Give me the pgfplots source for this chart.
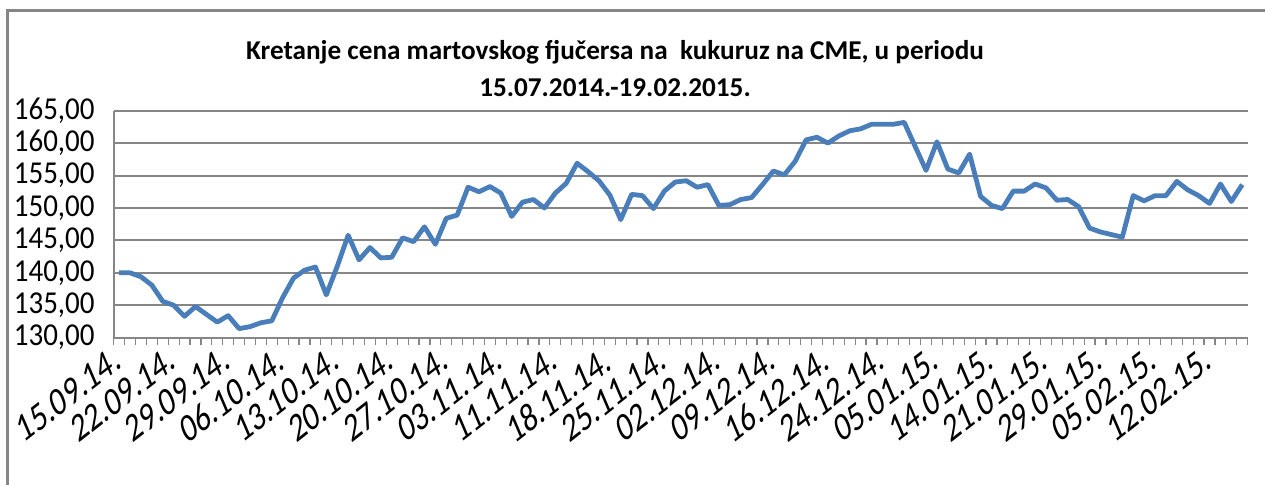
\documentclass[border=0pt]{standalone}
\usepackage{pgfplots}
\pgfplotsset{compat=1.18}
\usepackage{fontspec}
\setmainfont{Carlito}
\definecolor{gridgray}{HTML}{868686}
\definecolor{lineblue}{HTML}{4A7EBB}
\newcommand{\XL}[1]{\scalebox{1}[1.35]{\rotatebox{30}{#1}}}
\begin{document}
\begin{tikzpicture}[x=0.5pt,y=0.5pt]
\useasboundingbox (-113.7,-147.3) rectangle (1151.3,337.7);
\draw[gridgray, line width=1.5pt] (-105.7,-150) -- (-105.7,326.7) -- (1160,326.7);
\node[font=\bfseries\fontsize{13.6}{16}\selectfont] at (501.3,285.7) {Kretanje cena martovskog fjučersa na\ \ kukuruz na CME, u periodu};
\node[font=\bfseries\fontsize{13.6}{16}\selectfont] at (501.3,249.7) {15.07.2014.-19.02.2015.};
\begin{axis}[
  at={(0,0)}, anchor=south west,
  scale only axis, width=567pt, height=113.5pt,
  xmin=-0.5, xmax=103.5, ymin=130, ymax=165,
  ytick={130,135,...,165},
  ymajorgrids,
  grid style={line width=1pt, gridgray},
  axis x line*=bottom, axis y line*=left,
  axis line style={line width=1pt, gridgray},
  /pgf/number format/assume math mode=true,
  yticklabel={\scalebox{1}[1.1]{\pgfmathprintnumber[fixed,fixed zerofill,precision=2,use comma]{\tick}}},
  yticklabel style={font=\fontsize{14.5}{16}\selectfont, anchor=east, inner sep=0pt, xshift=-9.35pt},
  ytick style={draw=none},
  xtick={0,5,...,100},
  xticklabels={\XL{15.09.14.},\XL{22.09.14.},\XL{29.09.14.},\XL{06.10.14.},\XL{13.10.14.},\XL{20.10.14.},\XL{27.10.14.},\XL{03.11.14.},\XL{11.11.14.},\XL{18.11.14.},\XL{25.11.14.},\XL{02.12.14.},\XL{09.12.14.},\XL{16.12.14.},\XL{24.12.14.},\XL{05.01.15.},\XL{14.01.15.},\XL{21.01.15.},\XL{29.01.15.},\XL{05.02.15.},\XL{12.02.15.}},
  xticklabel style={font=\fontsize{15}{17}\selectfont, anchor=north east, inner sep=0pt, yshift=-3pt, xshift=2pt},
  minor xtick={-0.5,0.5,...,103.5},
  tick align=outside,
  major tick length=0pt,
  minor tick length=3.5pt,
  minor tick style={line width=0.6pt, gridgray},
]
\addplot[lineblue, line width=2.4pt, line join=round] coordinates {
(0,140.0)(1,140.0)(2,139.4)(3,138.1)(4,135.6)(5,135.0)(6,133.3)(7,134.8)(8,133.6)(9,132.4)
(10,133.4)(11,131.4)(12,131.7)(13,132.3)(14,132.6)(15,136.2)(16,139.2)(17,140.4)(18,140.9)(19,136.6)
(20,141.0)(21,145.8)(22,142.0)(23,143.9)(24,142.3)(25,142.4)(26,145.4)(27,144.8)(28,147.1)(29,144.4)
(30,148.4)(31,148.9)(32,153.2)(33,152.5)(34,153.3)(35,152.3)(36,148.7)(37,150.9)(38,151.3)(39,150.0)
(40,152.3)(41,153.8)(42,156.9)(43,155.6)(44,154.2)(45,152.0)(46,148.2)(47,152.1)(48,151.9)(49,149.9)
(50,152.6)(51,154.0)(52,154.2)(53,153.2)(54,153.6)(55,150.4)(56,150.5)(57,151.3)(58,151.6)(59,153.6)
(60,155.7)(61,155.1)(62,157.2)(63,160.5)(64,160.9)(65,160.0)(66,161.1)(67,161.9)(68,162.2)(69,162.9)
(70,162.9)(71,162.9)(72,163.2)(73,159.5)(74,155.8)(75,160.2)(76,156.0)(77,155.4)(78,158.3)(79,151.8)
(80,150.4)(81,149.9)(82,152.6)(83,152.6)(84,153.7)(85,153.1)(86,151.2)(87,151.3)(88,150.2)(89,146.9)
(90,146.3)(91,145.9)(92,145.5)(93,151.9)(94,151.1)(95,151.9)(96,151.9)(97,154.1)(98,152.8)(99,151.9)
(100,150.7)(101,153.7)(102,151.0)(103,153.6)
};
\end{axis}
\end{tikzpicture}
\end{document}
